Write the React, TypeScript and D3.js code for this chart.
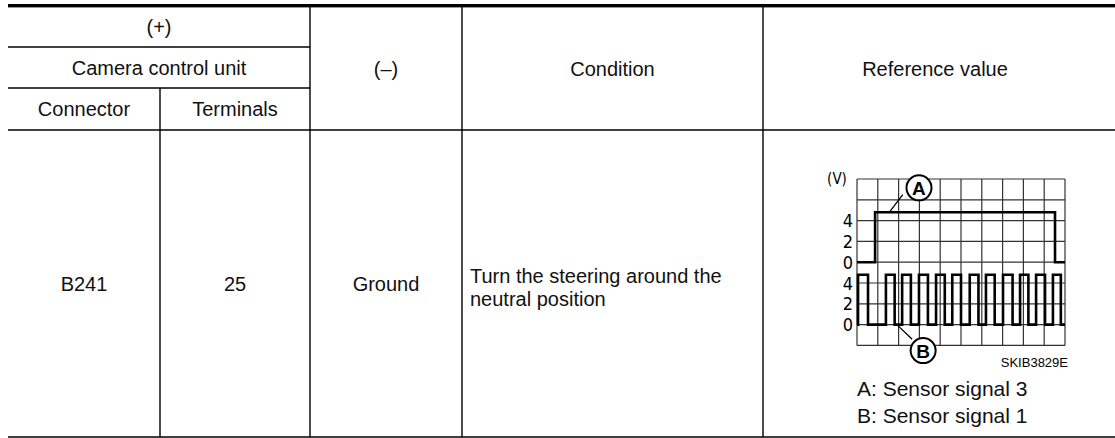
import { useEffect, useRef } from "react";
import * as d3 from "d3";

// table texts
const plusHeader = "(+)";
const unitHeader = "Camera control unit";
const subHeaders = ["Connector", "Terminals"];
const minusHeader = "(–)";
const conditionHeader = "Condition";
const referenceHeader = "Reference value";
const rowValues = ["B241", "25", "Ground"];
const conditionLines = ["Turn the steering around the", "neutral position"];
const legendLines = ["A: Sensor signal 3", "B: Sensor signal 1"];
const figureCode = "SKIB3829E";

// waveform (time in grid divisions, volts)
const voltTicks = [0, 2, 4];
const signalATimes = [0, 0.87, 9.52, 10];
const signalAVolts = [0, 4.8, 0, 0];
const signalBTimes = [
    0, 0.05, 0.53, 1.39, 1.81, 2.17, 2.59, 2.98, 3.41, 3.8, 4.22, 4.58, 5.0,
    5.42, 5.84, 6.2, 6.62, 7.02, 7.48, 7.84, 8.24, 8.61, 9.04, 9.42, 9.8, 10,
];
const signalBVolts = [
    0, 4.8, 0, 4.8, 0, 4.8, 0, 4.8, 0, 4.8, 0, 4.8, 0,
    4.8, 0, 4.8, 0, 4.8, 0, 4.8, 0, 4.8, 0, 4.8, 0, 0,
];

const FONT = "'Liberation Sans', Arial, sans-serif";
const NARROW = "'Liberation Sans Narrow', 'DejaVu Sans Condensed', sans-serif";

export default function App() {
    const ref = useRef(null);

    function draw() {
        const svg = d3.select(ref.current);
        const colX = [8, 160, 310, 462, 763, 1115];
        const rowY = [7, 47, 88, 130, 437];

        // thick top rule
        svg.append("rect").attr("x", 8).attr("y", 4).attr("width", 1107).attr("height", 3.4).attr("fill", "#000");

        const line = (x1, y1, x2, y2) =>
            svg.append("line")
                .attr("x1", x1).attr("y1", y1).attr("x2", x2).attr("y2", y2)
                .attr("stroke", "#000").attr("stroke-width", 1.4);

        line(colX[0], rowY[1], colX[2], rowY[1]);
        line(colX[0], rowY[2], colX[2], rowY[2]);
        line(colX[0], rowY[3], colX[5], rowY[3]);
        line(colX[0], rowY[4], colX[5], rowY[4]);
        line(colX[1], rowY[2], colX[1], rowY[4]);
        [2, 3, 4].forEach(i => line(colX[i], rowY[0], colX[i], rowY[4]));

        const text = (x, y, s, anchor = "middle", size = 20) =>
            svg.append("text")
                .attr("x", x).attr("y", y)
                .attr("text-anchor", anchor)
                .attr("dominant-baseline", "central")
                .style("font-family", FONT)
                .style("font-size", size + "px")
                .attr("fill", "#111")
                .text(s);

        const mid = (a, b) => (a + b) / 2;
        text(mid(colX[0], colX[2]), mid(rowY[0], rowY[1]), plusHeader);
        text(mid(colX[0], colX[2]), mid(rowY[1], rowY[2]), unitHeader);
        text(mid(colX[0], colX[1]), mid(rowY[2], rowY[3]), subHeaders[0]);
        text(mid(colX[1], colX[2]), mid(rowY[2], rowY[3]), subHeaders[1]);
        text(mid(colX[2], colX[3]), mid(rowY[0], rowY[3]), minusHeader);
        text(mid(colX[3], colX[4]), mid(rowY[0], rowY[3]), conditionHeader);
        text(mid(colX[4], colX[5] - 8), mid(rowY[0], rowY[3]), referenceHeader);

        const bodyMid = mid(rowY[3], rowY[4]);
        rowValues.forEach((v, i) => text(mid(colX[i], colX[i + 1]), bodyMid, v));
        conditionLines.forEach((s, i) => text(colX[3] + 8, bodyMid - 8 + i * 23, s, "start"));

        // waveform
        const x = d3.scaleLinear().domain([0, 10]).range([857, 1065]);
        const cell = (x(10) - x(0)) / 10;
        const top = 179;
        const yA = d3.scaleLinear().domain([0, 2]).range([top + 4 * cell, top + 3 * cell]);
        const yB = d3.scaleLinear().domain([0, 2]).range([top + 7 * cell, top + 6 * cell]);
        const g = svg.append("g");

        d3.range(11).forEach(i =>
            g.append("line").attr("x1", x(i)).attr("x2", x(i)).attr("y1", top).attr("y2", top + 8 * cell)
                .attr("stroke", "#333").attr("stroke-width", 1.2));
        d3.range(9).forEach(i =>
            g.append("line").attr("x1", x(0)).attr("x2", x(10)).attr("y1", top + i * cell).attr("y2", top + i * cell)
                .attr("stroke", "#333").attr("stroke-width", 1.2));

        const step = (ys) => d3.line().curve(d3.curveStepAfter).x(d => x(d[0])).y(d => ys(d[1]));
        g.append("path")
            .datum(d3.zip(signalATimes, signalAVolts))
            .attr("d", step(yA)).attr("fill", "none").attr("stroke", "#000").attr("stroke-width", 2.6);
        g.append("path")
            .datum(d3.zip(signalBTimes, signalBVolts))
            .attr("d", step(yB)).attr("fill", "none").attr("stroke", "#000").attr("stroke-width", 2.6);

        const tick = (ys, v) =>
            g.append("text").attr("x", x(0) - 4).attr("y", ys(v))
                .attr("text-anchor", "end").attr("dominant-baseline", "central")
                .style("font-family", NARROW).style("font-stretch", "condensed")
                .style("font-size", "18px").text(v);
        voltTicks.forEach(v => { tick(yA, v); tick(yB, v); });

        g.append("text").attr("x", x(0) - 20).attr("y", top)
            .attr("text-anchor", "middle").attr("dominant-baseline", "central")
            .style("font-family", NARROW).style("font-stretch", "condensed")
            .style("font-size", "15px").text("(V)");

        // callouts
        const callout = (label, cx, cy, lx1, ly1, lx2, ly2) => {
            g.append("line").attr("x1", lx1).attr("y1", ly1).attr("x2", lx2).attr("y2", ly2)
                .attr("stroke", "#000").attr("stroke-width", 1.3);
            g.append("circle").attr("cx", cx).attr("cy", cy).attr("r", 12.5)
                .attr("fill", "#fff").attr("stroke", "#000").attr("stroke-width", 2);
            g.append("text").attr("x", cx).attr("y", cy + 1)
                .attr("text-anchor", "middle").attr("dominant-baseline", "central")
                .style("font-family", FONT).style("font-weight", 700)
                .style("font-size", "19px").text(label);
        };
        callout("A", x(2.98), yA(7.15), x(1.55), yA(4.8), x(2.2), yA(6.5));
        callout("B", x(3.18), yB(-2.5), x(1.92), yB(0), x(2.65), yB(-1.4));

        svg.append("text").attr("x", 1068).attr("y", 362)
            .attr("text-anchor", "end").attr("dominant-baseline", "central")
            .style("font-family", FONT).style("font-size", "13px").text(figureCode);

        legendLines.forEach((s, i) => text(857, 388 + i * 27, s, "start", 21));
    }

    useEffect(() => {
        d3.select(ref.current).selectAll("*").remove();
        draw();
    }, []);

    return (
        <svg ref={ref} width={1115} height={438}
            style={{ position: "absolute", left: 0, top: 0, background: "#fff" }} />
    );
}
